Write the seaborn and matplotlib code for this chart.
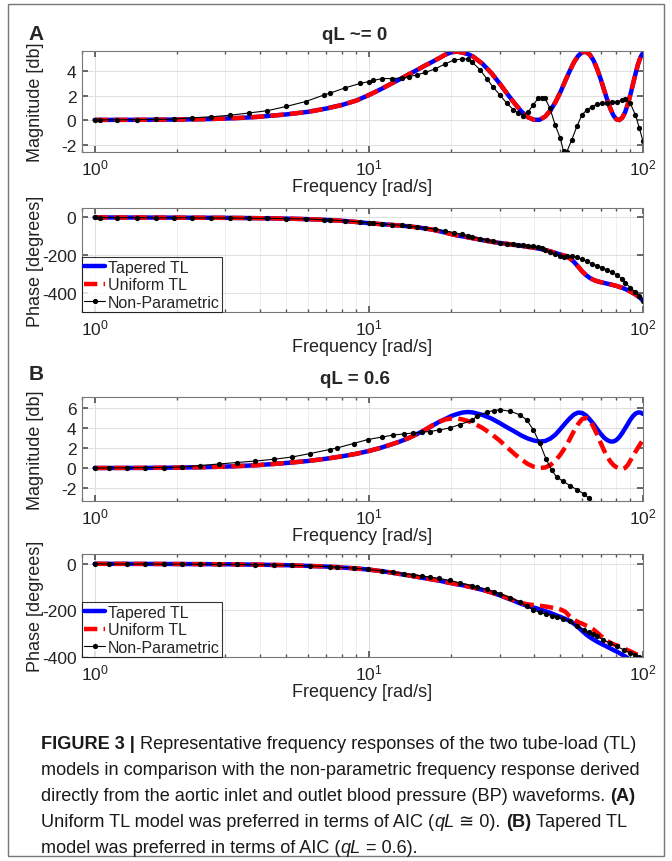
import numpy as np
import pandas as pd
import seaborn as sns
import matplotlib.pyplot as plt
from matplotlib.patches import Rectangle
from matplotlib.lines import Line2D

W, H = 672, 862
nan = np.nan

# ---- model frequency grid [rad/s] ----
model_freq = [1, 1.5, 2, 2.5, 3, 3.5, 4, 5, 6, 7, 8, 9,
              10, 11, 12, 13, 14, 15, 16, 17, 18, 19, 20, 21, 22, 23, 24,
              26, 28, 30, 32, 34, 36, 38, 40, 42, 44, 46, 48, 50, 52, 54, 56,
              58, 60, 62, 64, 66, 68, 70, 72, 74, 76, 78, 80, 82, 84, 86, 88,
              90, 92, 94, 96, 98, 100]

# ---- panel A (qL ~= 0) ----
tapered_mag_a = [0.02, 0.03, 0.05, 0.08, 0.13, 0.2, 0.28, 0.47, 0.68, 0.95, 1.25, 1.6,
                 2.05, 2.5, 2.95, 3.35, 3.75, 4.1, 4.45, 4.75, 5.05, 5.35, 5.55, 5.6, 5.52, 5.39, 5.2,
                 4.6, 3.85, 3.0, 2.15, 1.38, 0.72, 0.25, 0.03, 0.03, 0.3, 0.8, 1.5, 2.3, 3.18, 4.0, 4.73,
                 5.25, 5.55, 5.58, 5.35, 4.88, 4.2, 3.4, 2.53, 1.69, 0.95, 0.39, 0.07, 0.01, 0.2, 0.63, 1.3,
                 2.1, 2.97, 3.83, 4.6, 5.16, 5.5]
uniform_mag_a = list(tapered_mag_a)  # both models coincide in A

tapered_ph_a = [0, -0.5, -1, -1.5, -2, -3, -4, -6, -9, -13, -18, -24,
                -30, -35, -39, -43, -47, -52, -58, -64, -72, -80, -88, -95, -100, -105, -110,
                -120, -128, -135, -140, -145, -150, -155, -160, -166, -172, -180, -188, -196, -203, -215, -235,
                -260, -285, -305, -320, -330, -337, -342, -346, -350, -354, -358, -362, -367, -372, -378, -385,
                -392, -400, -408, -417, -428, -440]
uniform_ph_a = list(tapered_ph_a)

np_freq_a = [1.0, 1.05, 1.21, 1.43, 1.67, 1.95, 2.27, 2.65, 3.11, 3.66, 4.26, 5.0, 5.88, 6.85, 7.2,
             8.2, 9.3, 10.0, 10.4, 11.2, 12.2, 13.2, 14.0, 15.0, 16.1, 17.5, 19.0, 20.4, 21.9, 23.1,
             23.8, 25.5, 26.9, 28.4, 30.1, 31.8, 33.7, 35.1, 36.6, 38.2, 39.8, 41.5, 42.7, 43.9, 45.8,
             47.8, 49.9, 51.3, 52.7, 55.0, 57.4, 59.9, 62.4, 65.1, 67.9, 70.8, 73.9, 77.1, 80.4, 83.9,
             86.3, 89.9, 93.8, 97.0, 100]
np_mag_a = [0.02, 0.02, 0.03, 0.04, 0.06, 0.09, 0.19, 0.27, 0.4, 0.59, 0.77, 1.12, 1.52, 2.05, 2.2,
            2.64, 3.0, 3.15, 3.25, 3.4, 3.4, 3.45, 3.55, 3.7, 3.9, 4.2, 4.6, 4.9, 5.0, 5.0,
            4.75, 4.1, 3.4, 2.7, 2.05, 1.4, 0.85, 0.57, 0.38, 0.7, 1.25, 1.8, 1.85, 1.8, 0.97,
            -0.38, -1.46, -2.55, -2.6, -1.6, -0.5, 0.43, 0.84, 1.1, 1.3, 1.38, 1.43, 1.46, 1.5, 1.65,
            1.73, 1.38, 0.43, -0.65, -1.73]
np_ph_a = [0, -1, -1, -1, -2, -2, -2, -3, -3, -4, -5, -6, -8, -12, -13,
           -18, -24, -28, -30, -35, -38, -42, -46, -50, -55, -62, -72, -80, -90, -97,
           -103, -112, -120, -127, -133, -138, -142, -145, -148, -150, -152, -156, -162, -170, -182,
           -195, -205, -208, -205, -203, -210, -222, -232, -245, -255, -265, -278, -290, -305, -325,
           -345, -372, -395, -415, -440]

# ---- panel B (qL = 0.6) ----
tapered_mag_b = [0, 0.01, 0.04, 0.08, 0.14, 0.22, 0.3, 0.5, 0.7, 0.93, 1.17, 1.42,
                 1.7, 2.0, 2.33, 2.65, 3.0, 3.4, 3.8, 4.2, 4.6, 4.9, 5.2, 5.4, 5.55, 5.6, 5.55,
                 5.3, 4.95, 4.5, 4.05, 3.65, 3.25, 2.95, 2.75, 2.65, 2.7, 2.95, 3.35, 3.9, 4.45, 4.95, 5.35,
                 5.55, 5.5, 5.25, 4.85, 4.4, 3.9, 3.45, 3.05, 2.8, 2.65, 2.65, 2.8, 3.1, 3.5, 3.95, 4.4,
                 4.85, 5.2, 5.45, 5.55, 5.55, 5.4]
uniform_mag_b = [0, 0.01, 0.04, 0.08, 0.14, 0.22, 0.3, 0.5, 0.7, 0.93, 1.17, 1.42,
                 1.7, 2.0, 2.33, 2.65, 3.0, 3.4, 3.8, 4.25, 4.6, 4.85, 4.95, 4.95, 4.85, 4.7, 4.5,
                 4.0, 3.4, 2.75, 2.05, 1.4, 0.85, 0.4, 0.12, 0.0, 0.05, 0.3, 0.75, 1.35, 2.05, 2.85, 3.7,
                 4.4, 4.9, 5.0, 4.75, 4.1, 3.35, 2.55, 1.8, 1.15, 0.65, 0.3, 0.08, -0.05, -0.1, 0.0, 0.3,
                 0.75, 1.2, 1.65, 2.05, 2.45, 2.8]

tapered_ph_b = [0, -0.5, -1, -1.5, -2, -3, -4, -6, -9, -12, -16, -20,
                -25, -31, -37, -44, -50, -56, -62, -67, -72, -78, -83, -88, -92, -97, -102,
                -112, -123, -135, -148, -160, -172, -181, -188, -195, -203, -211, -220, -228, -236, -245, -257,
                -272, -288, -303, -315, -325, -334, -342, -349, -356, -363, -370, -376, -383, -390, -397, -405,
                -413, nan, nan, nan, nan, nan]
uniform_ph_b = [0, -0.5, -1, -1.5, -2, -3, -4, -6, -9, -12, -16, -20,
                -25, -31, -37, -44, -50, -56, -62, -67, -72, -78, -83, -88, -92, -97, -102,
                -112, -123, -135, -146, -158, -168, -174, -177, -180, -183, -187, -191, -196, -205, -225, -240,
                -250, -257, -265, -272, -282, -295, -308, -321, -331, -339, -345, -350, -355, -360, -365, -371,
                -376, -381, -387, -392, -397, -401]

np_freq_b = [1.0, 1.13, 1.31, 1.53, 1.79, 2.09, 2.43, 2.84, 3.31, 3.86, 4.5, 5.25, 6.12, 7.2, 7.65,
             8.8, 9.93, 11.2, 12.3, 13.4, 14.5, 15.6, 16.7, 18.1, 19.7, 21.5, 23.8, 24.8, 26.9, 28.5,
             30.1, 32.8, 35.5, 37.6, 39.8, 42.0, 44.3, 46.4, 48.4, 51.2, 54.2, 57.4, 60.7, 63.3, 65.5,
             67.9, 71.6, 75.8, 80.2, 85.0, 90.0, 93.8, 96.6]
np_mag_b = [0, 0, 0.02, 0.03, 0.05, 0.1, 0.25, 0.4, 0.55, 0.7, 0.87, 1.1, 1.45, 1.85, 2.0,
            2.45, 2.85, 3.1, 3.3, 3.4, 3.5, 3.58, 3.65, 3.8, 4.0, 4.35, 4.77, 5.2, 5.57, 5.75,
            5.83, 5.67, 5.33, 4.83, 3.83, 2.5, 0.9, -0.17, -0.9, -1.33, -1.77, -2.17, -2.57, -3.0, -3.5,
            nan, nan, nan, nan, nan, nan, nan, nan]
np_ph_b = [0, -1, -1, -1, -2, -2, -2, -3, -3, -4, -5, -7, -9, -12, -14,
           -19, -24, -31, -37, -42, -47, -52, -57, -63, -71, -82, -94, -100, -110, -119,
           -128, -145, -163, -180, -197, -209, -216, -222, -228, -235, -247, -268, -283, -293, -302,
           -311, -326, -340, -354, -369, -383, -393, -399]

AX_FONT = ['Liberation Sans Narrow', 'Liberation Sans', 'DejaVu Sans']
CAP_FONT = ['Liberation Sans', 'DejaVu Sans']

sns.set_theme(style="ticks")
plt.rcParams['font.family'] = AX_FONT
plt.rcParams['axes.unicode_minus'] = False

fig = plt.figure(figsize=(W / 100, H / 100), dpi=100)


def add_axes(top, bottom, left=82, right=643):
    return fig.add_axes([left / W, 1 - bottom / H, (right - left) / W, (bottom - top) / H])


def draw(ax, f, tap, uni, fn, non):
    sns.lineplot(x=f, y=tap, ax=ax, color='#0000ff', lw=3.2, estimator=None, sort=False)
    sns.lineplot(x=f, y=uni, ax=ax, color='#ff0000', lw=3.2, estimator=None, sort=False,
                 linestyle=(0, (3.0, 1.4)), dash_capstyle='butt')
    sns.lineplot(x=fn, y=non, ax=ax, color='black', lw=0.8, marker='o', markersize=3.8,
                 markeredgewidth=0, estimator=None, sort=False)


def style(ax, ylim, yticks, ylabel, h_px):
    ax.set_xscale('log')
    ax.set_xlim(0.9, 100)
    ax.set_ylim(*ylim)
    ax.set_yticks(yticks)
    ax.grid(True, which='major', color='#dedede', lw=0.7)
    ax.grid(True, which='minor', axis='x', color='#ececec', lw=0.6)
    ax.set_axisbelow(True)
    ax.tick_params(which='both', direction='in', top=True, right=True, color='#555555',
                   labelsize=12.5, labelcolor='#222222', pad=4)
    ax.tick_params(which='major', length=4)
    ax.tick_params(which='minor', length=2)
    for s in ax.spines.values():
        s.set_color('#777777')
        s.set_linewidth(0.8)
    ax.set_xlabel('Frequency [rad/s]', fontsize=13, color='#222222')
    ax.xaxis.set_label_coords(0.5, -26 / h_px)
    ax.set_ylabel(ylabel, fontsize=13, color='#222222')
    ax.yaxis.set_label_coords(-38 / 561, 0.5)


def legend(ax):
    handles = [Line2D([], [], color='#0000ff', lw=3.2),
               Line2D([], [], color='#ff0000', lw=3.2, linestyle=(0, (3.0, 1.4))),
               Line2D([], [], color='black', lw=0.8, marker='o', markersize=3.8, markeredgewidth=0)]
    leg = ax.legend(handles, ['Tapered TL', 'Uniform TL', 'Non-Parametric'], loc='lower left',
                    fontsize=11.5, frameon=True, fancybox=False, edgecolor='black',
                    borderaxespad=0, borderpad=0.15, labelspacing=0.15, handlelength=1.3,
                    handletextpad=0.15)
    leg.get_frame().set_linewidth(0.8)


mag_a = add_axes(52, 153)
draw(mag_a, model_freq, tapered_mag_a, uniform_mag_a, np_freq_a, np_mag_a)
style(mag_a, (-2.6, 5.65), [-2, 0, 2, 4], 'Magnitude [db]', 101)

ph_a = add_axes(209, 313)
draw(ph_a, model_freq, tapered_ph_a, uniform_ph_a, np_freq_a, np_ph_a)
style(ph_a, (-500, 50), [-400, -200, 0], 'Phase [degrees]', 104)
legend(ph_a)

mag_b = add_axes(398, 502)
draw(mag_b, model_freq, tapered_mag_b, uniform_mag_b, np_freq_b, np_mag_b)
style(mag_b, (-3.3, 7.1), [-2, 0, 2, 4, 6], 'Magnitude [db]', 104)

ph_b = add_axes(555, 658)
draw(ph_b, model_freq, tapered_ph_b, uniform_ph_b, np_freq_b, np_ph_b)
style(ph_b, (-400, 42), [-400, -200, 0], 'Phase [degrees]', 103)
legend(ph_b)

# panel letters and titles
fig.text(36 / W, 1 - 35 / H, 'A', fontsize=15, fontweight='bold', family=CAP_FONT, ha='center', va='center')
fig.text(355 / W, 1 - 35 / H, 'qL ~= 0', fontsize=13.5, fontweight='bold', ha='center', va='center')
fig.text(36 / W, 1 - 375 / H, 'B', fontsize=15, fontweight='bold', family=CAP_FONT, ha='center', va='center')
fig.text(355 / W, 1 - 380 / H, 'qL = 0.6', fontsize=13.5, fontweight='bold', ha='center', va='center')

# outer frame
fig.patches.append(Rectangle((8 / W, 5 / H), (664 - 8) / W, (857 - 5) / H, fill=False,
                             edgecolor='#777777', lw=1.0, transform=fig.transFigure))

# caption
renderer = fig.canvas.get_renderer()


def text_width(s, size, weight='normal', fstyle='normal'):
    t = fig.text(0, 0, s, fontsize=size, fontweight=weight, fontstyle=fstyle, family=CAP_FONT)
    w = t.get_window_extent(renderer).width
    t.remove()
    return w


cap_size = 12 * 600 / text_width('models in comparison with the non-parametric frequency response derived', 12)
space_w = text_width('a a', cap_size) - text_width('aa', cap_size)


def rich_line(x_px, y_px, parts):
    x = x_px
    for s, weight, fstyle in parts:
        lead = len(s) - len(s.lstrip(' '))
        trail = len(s) - len(s.rstrip(' '))
        core = s.strip(' ')
        x += lead * space_w
        t = fig.text(x / W, 1 - y_px / H, core, fontsize=cap_size, fontweight=weight,
                     fontstyle=fstyle, family=CAP_FONT, ha='left', va='baseline', color='#1a1a1a')
        x += t.get_window_extent(renderer).width + trail * space_w


N, B, I = 'normal', 'bold', 'italic'
caption = [
    [('FIGURE 3 |', B, N), (' Representative frequency responses of the two tube-load (TL)', N, N)],
    [('models in comparison with the non-parametric frequency response derived', N, N)],
    [('directly from the aortic inlet and outlet blood pressure (BP) waveforms. ', N, N), ('(A)', B, N)],
    [('Uniform TL model was preferred in terms of AIC (', N, N), ('qL', N, I), (' \u2245 0). ', N, N),
     ('(B)', B, N), (' Tapered TL', N, N)],
    [('model was preferred in terms of AIC (', N, N), ('qL', N, I), (' = 0.6).', N, N)],
]
for k, parts in enumerate(caption):
    rich_line(41, 749 + 26 * k, parts)

fig.savefig('out.png', dpi=100)
